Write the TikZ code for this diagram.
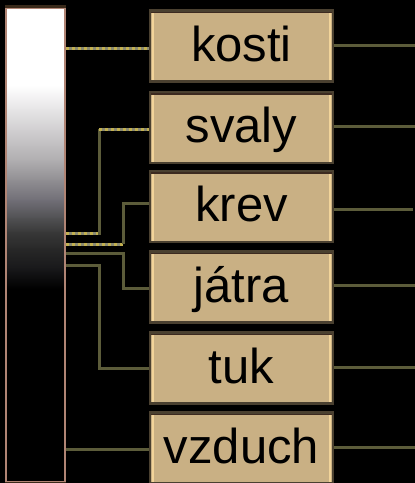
\documentclass[tikz,border=0pt]{standalone}
\usepackage{fontspec}
\setmainfont{Liberation Sans}
\usetikzlibrary{backgrounds}
\definecolor{bgblack}{HTML}{000000}
\definecolor{boxfill}{HTML}{C9B084}
\definecolor{boxedge}{HTML}{4A4030}
\definecolor{boxhi}{HTML}{F2D49A}
\definecolor{boxtop}{HTML}{3C2A20}
\definecolor{baredge}{HTML}{B08474}
\definecolor{bartop}{HTML}{3A2A1A}
\definecolor{olive}{HTML}{5C5C3A}
\definecolor{yel}{HTML}{C2B050}
\definecolor{yelgap}{HTML}{8A8A72}
\tikzset{
  lbox/.style={draw=boxedge, line width=2.5pt, fill=boxfill,
    minimum width=183pt, minimum height=71pt, inner sep=0pt,
    text height=36pt, text depth=6pt, text=black,
    font=\fontsize{49}{52}\selectfont,
    path picture={
      \draw[boxhi, line width=2pt]
        ([xshift=3pt]path picture bounding box.north west) -- ([xshift=3pt]path picture bounding box.south west)
        ([xshift=-3pt]path picture bounding box.north east) -- ([xshift=-3pt]path picture bounding box.south east);
      \draw[boxtop, line width=5pt]
        (path picture bounding box.north west) -- (path picture bounding box.north east);
    }},
  oline/.style={draw=olive, line width=3pt},
  yline/.style={draw=yelgap, line width=3pt,
    postaction={draw=yel, line width=3pt, dash pattern=on 3pt off 3pt}},
}
\begin{document}
\begin{tikzpicture}[x=1pt,y=-1pt]
\begin{scope}[on background layer]
\fill[bgblack] (0,0) rectangle (415,483);
\end{scope}
\useasboundingbox (0,0) rectangle (415,483);
% gradient bar
\fill[white] (6,8) rectangle (65,86);
\shade[top color=white, bottom color={rgb,255:red,208;green,206;blue,208}] (6,85) rectangle (65,131);
\shade[top color={rgb,255:red,208;green,206;blue,208}, bottom color={rgb,255:red,176;green,174;blue,176}] (6,130) rectangle (65,161);
\shade[top color={rgb,255:red,176;green,174;blue,176}, bottom color={rgb,255:red,144;green,142;blue,146}] (6,160) rectangle (65,181);
\shade[top color={rgb,255:red,144;green,142;blue,146}, bottom color={rgb,255:red,112;green,110;blue,118}] (6,180) rectangle (65,201);
\shade[top color={rgb,255:red,112;green,110;blue,118}, bottom color={rgb,255:red,80;green,80;blue,82}] (6,200) rectangle (65,219);
\shade[top color={rgb,255:red,80;green,80;blue,82}, bottom color={rgb,255:red,56;green,56;blue,56}] (6,218) rectangle (65,233);
\shade[top color={rgb,255:red,56;green,56;blue,56}, bottom color={rgb,255:red,40;green,40;blue,40}] (6,232) rectangle (65,249);
\shade[top color={rgb,255:red,40;green,40;blue,40}, bottom color={rgb,255:red,24;green,24;blue,26}] (6,248) rectangle (65,269);
\shade[top color={rgb,255:red,24;green,24;blue,26}, bottom color=black] (6,268) rectangle (65,289);
\node[draw=baredge, line width=2.5pt, minimum width=59pt, minimum height=474pt, inner sep=0pt] (bar) at (35.5,245) {};
\draw[bartop, line width=3pt] (bar.north west) -- (bar.north east);
\draw[bartop, line width=3pt] (bar.south west) -- (bar.south east);
% boxes
\node[lbox] (kosti)  at (241.5,46)  {kosti};
\node[lbox] (svaly)  at (241.5,127.5) {svaly};
\node[lbox] (krev)   at (241.5,206.5) {krev};
\node[lbox] (jatra)  at (241.5,287) {játra};
\node[lbox] (tuk)    at (241.5,368) {tuk};
\node[lbox] (vzduch) at (241.5,448) {vzduch};
\begin{scope}[on background layer]
% left connectors
\draw[yline] (bar.east |- 0,48) -- ([yshift=-2pt]kosti.west);
\draw[yline] (bar.east |- 0,233) -- (99,233);
\draw[oline] (99,234.5) -- (99,129);
\draw[yline] (99,129) -- ([yshift=-1.5pt]svaly.west);
\draw[yline] (bar.east |- 0,244) -- (123,244);
\draw[oline] (123,244) -- (123,203) -- ([yshift=3.5pt]krev.west);
\draw[oline] (bar.east |- 0,253) -- (123,253) -- (123,288) -- ([yshift=-1pt]jatra.west);
\draw[oline] (bar.east |- 0,265) -- (99,265) -- (99,368) -- (tuk.west);
\draw[oline] (bar.east |- 0,449) -- ([yshift=-1pt]vzduch.west);
% right connectors
\draw[oline] ([yshift=1pt]kosti.east) -- ++(82,0);
\draw[oline] ([yshift=1.5pt]svaly.east) -- ++(82,0);
\draw[oline] ([yshift=-2.5pt]krev.east) -- ++(79,0);
\draw[oline] ([yshift=2pt]jatra.east) -- ++(82,0);
\draw[oline] ([yshift=1pt]tuk.east) -- ++(82,0);
\draw[oline] ([yshift=1pt]vzduch.east) -- ++(82,0);
\end{scope}
\end{tikzpicture}
\end{document}
